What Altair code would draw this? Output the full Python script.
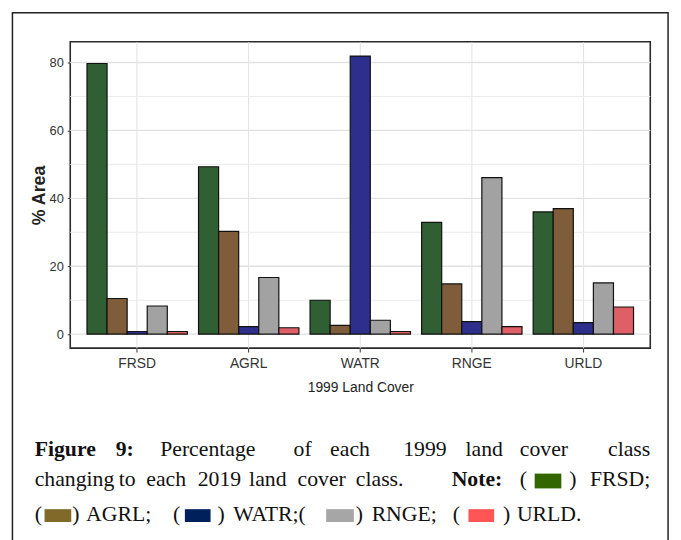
import altair as alt
import pandas as pd

# ---- data ----
categories = ["FRSD", "AGRL", "WATR", "RNGE", "URLD"]        # 1999 land cover
classes_2019 = ["FRSD", "AGRL", "WATR", "RNGE", "URLD"]      # 2019 land cover
frsd_2019 = [79.7, 49.3, 10.0, 32.9, 36.0]
agrl_2019 = [10.5, 30.3, 2.6, 14.8, 37.0]
watr_2019 = [0.8, 2.2, 81.9, 3.7, 3.4]
rnge_2019 = [8.3, 16.7, 4.1, 46.1, 15.1]
urld_2019 = [0.8, 1.9, 0.8, 2.2, 8.0]
major_ticks = [0, 20, 40, 60, 80]
minor_ticks = [10, 30, 50, 70]

bar_colors = ["#2f5f32", "#7f5c3a", "#2e2e8c", "#a2a2a2", "#de5f66"]
caption_colors = ["#336600", "#806a2a", "#00205b", "#a6a6a6", "#ff5555"]

series = [frsd_2019, agrl_2019, watr_2019, rnge_2019, urld_2019]
rows = []
for cls, vals in zip(classes_2019, series):
    for cat, v in zip(categories, vals):
        rows.append({"from": cat, "to": cls, "pct": v})
df = pd.DataFrame(rows)

# ---- layout ----
W, H = 587, 310
OX, OY = 71, 41          # page position of plot origin
SHIFT_Y = 2              # page offset observed in the renderer
SANS = "Liberation Sans Narrow, Liberation Sans, Arial, sans-serif"
SERIF = "Liberation Serif, Times New Roman, serif"
CAP = 22


def px(x):
    return x - OX


def py(y):
    return y - OY


grid_major = alt.Chart(pd.DataFrame({"v": major_ticks})).mark_rule(
    color="#e2e2e2", strokeWidth=1.3).encode(y=alt.Y("v:Q"))
grid_minor = alt.Chart(pd.DataFrame({"v": minor_ticks})).mark_rule(
    color="#ebebeb", strokeWidth=1).encode(y=alt.Y("v:Q"))

bars = alt.Chart(df).mark_bar(stroke="#111111", strokeWidth=1.2).encode(
    x=alt.X("from:N", sort=categories,
            scale=alt.Scale(paddingInner=0.1, paddingOuter=0.15),
            axis=alt.Axis(title="1999 Land Cover", labelAngle=0, bandPosition=0.5,
                          grid=True, gridColor="#e2e2e2", domain=False,
                          tickColor="#333333", tickSize=4, tickWidth=1,
                          labelFont=SANS, labelFontSize=14, labelColor="#333333",
                          labelPadding=5,
                          titleFont=SANS, titleFontSize=14, titleColor="#222222",
                          titleFontWeight="normal",
                          titleX=W / 2, titleY=391 - OY - H, titleBaseline="middle")),
    xOffset=alt.XOffset("to:N", sort=classes_2019,
                        scale=alt.Scale(paddingInner=0, paddingOuter=0)),
    y=alt.Y("pct:Q",
            scale=alt.Scale(domain=[-4.1, 86.1], nice=False, zero=False),
            axis=alt.Axis(title="% Area", values=major_ticks, grid=False, domain=False,
                          tickColor="#333333", tickSize=3, tickWidth=1,
                          labelFont=SANS, labelFontSize=13, labelColor="#333333",
                          labelPadding=4,
                          titleFont="Liberation Sans, Arial, sans-serif",
                          titleFontSize=18, titleFontWeight="bold", titleColor="#222222",
                          titleAngle=270, titleX=px(40), titleY=H / 2,
                          titleBaseline="middle", titleAlign="center")),
    y2=alt.datum(0),
    color=alt.Color("to:N", sort=classes_2019,
                    scale=alt.Scale(domain=classes_2019, range=bar_colors),
                    legend=None),
)

layers = [grid_minor, grid_major, bars]

# outer figure frame
layers.append(alt.Chart().mark_rect(fill=None, stroke="#222222", strokeWidth=1.5).encode(
    x=alt.value(px(12.5)), x2=alt.value(px(676)),
    y=alt.value(py(11.5)), y2=alt.value(py(560))))


def txt(s, x, y, bold=False, align="left"):
    return alt.Chart().mark_text(
        font=SERIF, fontSize=CAP, fontWeight="bold" if bold else "normal",
        color="#111111", align=align, baseline="alphabetic").encode(
        x=alt.value(px(x)), y=alt.value(py(y)), text=alt.value(s))


def sq(color, x0, x1, y0, y1):
    return alt.Chart().mark_rect(fill=color).encode(
        x=alt.value(px(x0)), x2=alt.value(px(x1)),
        y=alt.value(py(y0)), y2=alt.value(py(y1)))


# caption line 1 (justified)
L1 = 460.5
line1 = [("Figure", 35, True), ("9:", 117, True), ("Percentage", 162, False),
         ("of", 297, False), ("each", 334, False), ("1999", 408, False),
         ("land", 471, False), ("cover", 526, False)]
for w, x, b in line1:
    layers.append(txt(w, x, L1, b))
layers.append(txt("class", 658, L1, False, "right"))

# caption line 2 (justified)
L2 = 491
line2 = [("changing", 35, False), ("to", 120, False), ("each", 148, False),
         ("2019", 200, False), ("land", 252, False), ("cover", 301, False),
         ("class.", 360, False), ("Note:", 457, True), ("(", 526, False),
         (")", 576, False)]
for w, x, b in line2:
    layers.append(txt(w, x, L2, b))
layers.append(sq(caption_colors[0], 541, 568, 478, 493))
layers.append(txt("FRSD;", 658, L2, False, "right"))

# caption line 3
L3 = 525.5
line3 = [("(", 35, False), (")", 73, False), ("AGRL;", 87, False), ("(", 175, False),
         (")", 220, False), ("WATR;(", 236, False), (")", 360, False),
         ("RNGE;", 376, False), ("(", 458, False), (")", 509, False),
         ("URLD.", 523, False)]
for w, x, b in line3:
    layers.append(txt(w, x, L3, b))
layers.append(sq(caption_colors[1], 45, 72, 514, 527))
layers.append(sq(caption_colors[2], 187, 213, 514, 527))
layers.append(sq(caption_colors[3], 330, 358, 514, 527))
layers.append(sq(caption_colors[4], 474, 500, 514, 527))

chart = alt.layer(*layers).properties(
    width=W, height=H,
    autosize=alt.AutoSizeParams(type="none"),
    padding={"left": OX - 8, "top": OY - 8 - SHIFT_Y,
             "right": 673 - (OX - 8) - W,
             "bottom": 532 - (OY - 8 - SHIFT_Y) - H},
    background="white",
).configure_view(stroke="#2b2b2b", strokeWidth=1.6)

chart.save("out.html", embed_options={"renderer": "svg", "actions": False})
